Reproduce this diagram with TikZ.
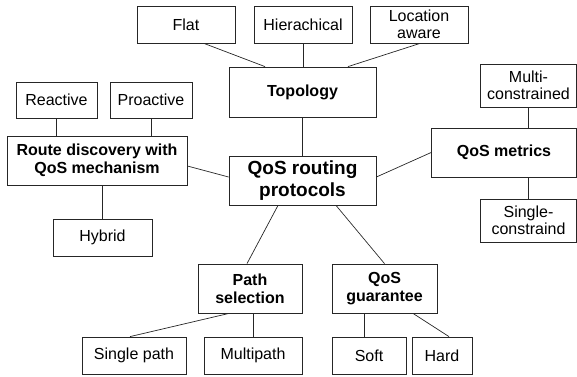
\documentclass[tikz,border=0pt]{standalone}
\usepackage{fontspec}
\setmainfont{Liberation Sans}

\tikzset{
  leaf/.style={draw=black!85, line width=0.8pt, rectangle, inner sep=0pt,
    align=center, font=\fontsize{16}{17}\selectfont, minimum height=37pt},
  branch/.style={draw=black!85, line width=0.8pt, rectangle, inner sep=0pt,
    align=center, font=\fontsize{16}{18}\selectfont\bfseries, minimum height=49pt},
  link/.style={draw=black!85, line width=0.7pt}
}

\begin{document}
\begin{tikzpicture}[x=1pt,y=-1pt]
        \useasboundingbox (0,0) rectangle (577,376);

        % Nodo centrale
        \node[branch, minimum width=147pt, font=\fontsize{19}{22}\selectfont\bfseries](qos) at (302.5,180.5) {QoS routing\\protocols};

        % Rami principali
        \node[branch, minimum width=147pt, minimum height=50pt](topo) at (302.5,92) {Topology};
        \node[branch, minimum width=180pt](rd) at (97,160.5) {Route discovery with\\QoS mechanism};
        \node[branch, minimum width=145pt](metrics) at (504,152.5) {QoS metrics};
        \node[branch, minimum width=104pt](path) at (250,288.5) {Path\\selection};
        \node[branch, minimum width=105pt](guar) at (384.5,288.5) {QoS\\guarantee};

        % Foglie
        \node[leaf, minimum width=98pt](flat) at (186,24.5) {Flat};
        \node[leaf, minimum width=98pt](hier) at (303,24.5) {Hierachical};
        \node[leaf, minimum width=98pt](loc) at (419,24.5) {Location\\aware};
        \node[leaf, minimum width=81pt, minimum height=36pt](react) at (56.5,100) {Reactive};
        \node[leaf, minimum width=82pt, minimum height=36pt](proact) at (151,100) {Proactive};
        \node[leaf, minimum width=99pt](hybrid) at (102.5,237.5) {Hybrid};
        \node[leaf, minimum width=96pt, minimum height=43pt](multi) at (528.5,85.5) {Multi-\\constrained};
        \node[leaf, minimum width=96pt, minimum height=43pt](single) at (528.5,220.5) {Single-\\constraind};
        \node[leaf, minimum width=104pt](spath) at (134,355.5) {Single path};
        \node[leaf, minimum width=98pt](mpath) at (253,355.5) {Multipath};
        \node[leaf, minimum width=74pt](soft) at (369,355.5) {Soft};
        \node[leaf, minimum width=60pt](hard) at (442,355.5) {Hard};

        % Collegamenti
        \draw[link] ([xshift=18pt]flat.south)--([xshift=-37.5pt]topo.north);
        \draw[link] (hier.south)--(hier.south |- topo.north);
        \draw[link] ([xshift=1pt]loc.south)--([xshift=45.5pt]topo.north);
        \draw[link] (topo.south)--(qos.north);
        \draw[link] (react.south)--(react.south |- rd.north);
        \draw[link] (proact.south)--(proact.south |- rd.north);
        \draw[link] ([yshift=-5.5pt]rd.east)--([yshift=3.5pt]qos.west);
        \draw[link] ([xshift=5.5pt]rd.south)--(hybrid.north);
        \draw[link] ([yshift=3.5pt]qos.east)--(metrics.west);
        \draw[link] (multi.south)--(multi.south |- metrics.north);
        \draw[link] (single.north |- metrics.south)--(single.north);
        \draw[link] ([xshift=-24.5pt]qos.south)--([xshift=-3pt]path.north);
        \draw[link] ([xshift=33.5pt]qos.south)--(guar.north);
        \draw[link] ([xshift=-21pt]path.south)--([xshift=-4pt]spath.north);
        \draw[link] (mpath.north |- path.south)--(mpath.north);
        \draw[link] ([xshift=-5pt]soft.north |- guar.south)--([xshift=-5pt]soft.north);
        \draw[link] ([xshift=28.5pt]guar.south)--([xshift=7pt]hard.north);
    \end{tikzpicture}
\end{document}
